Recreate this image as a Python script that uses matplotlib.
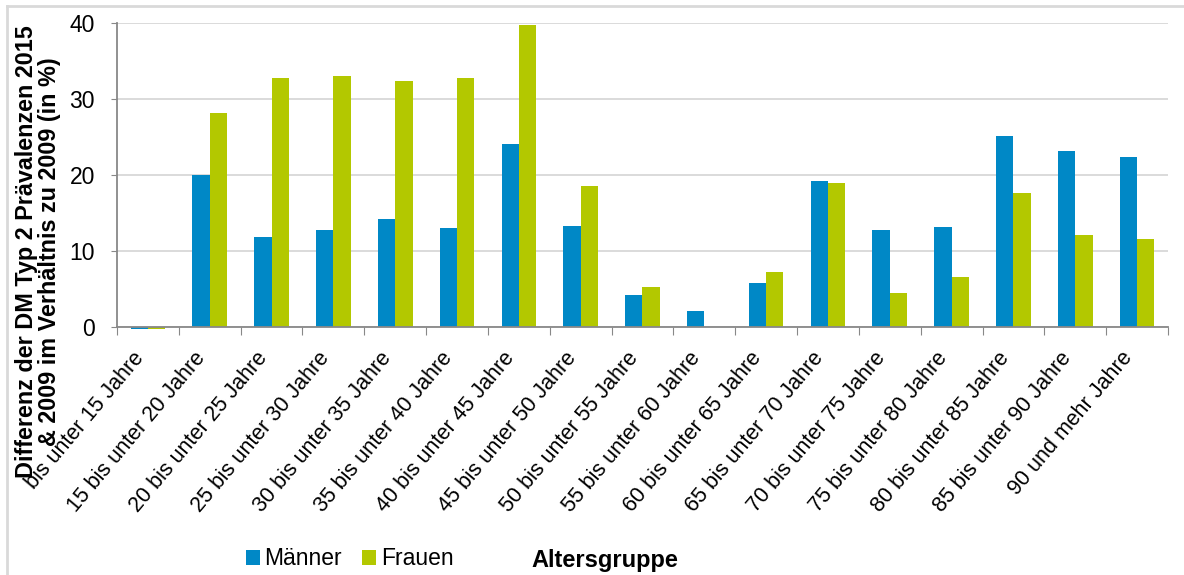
import matplotlib
matplotlib.use("Agg")
import matplotlib.pyplot as plt
import numpy as np
from matplotlib.lines import Line2D

plt.rcParams['font.family'] = ['Liberation Sans', 'DejaVu Sans']

# Altersgruppen und Differenzen (in %)
gruppen = ["bis unter 15 Jahre", "15 bis unter 20 Jahre", "20 bis unter 25 Jahre",
           "25 bis unter 30 Jahre", "30 bis unter 35 Jahre", "35 bis unter 40 Jahre",
           "40 bis unter 45 Jahre", "45 bis unter 50 Jahre", "50 bis unter 55 Jahre",
           "55 bis unter 60 Jahre", "60 bis unter 65 Jahre", "65 bis unter 70 Jahre",
           "70 bis unter 75 Jahre", "75 bis unter 80 Jahre", "80 bis unter 85 Jahre",
           "85 bis unter 90 Jahre", "90 und mehr Jahre"]
maenner = [-0.2, 20.0, 11.9, 12.7, 14.2, 13.0, 24.1, 13.3, 4.2, 2.1, 5.8,
           19.2, 12.7, 13.1, 25.1, 23.2, 22.4]
frauen = [-0.2, 28.2, 32.7, 33.0, 32.4, 32.7, 39.8, 18.5, 5.3, 0.0, 7.2,
          19.0, 4.5, 6.6, 17.6, 12.1, 11.6]

blau = '#0088C6'
gruen = '#B3C800'

fig = plt.figure(figsize=(11.84, 5.75), dpi=100)
ax = fig.add_axes([0.0988, 0.4313, 0.8877, 0.5287])

x = np.arange(len(gruppen))
w = 0.28
# clip_on=False, damit die kleinen negativen Werte unter der Achse sichtbar bleiben
ax.bar(x - w / 2, maenner, w, color=blau, label='Männer', zorder=3, clip_on=False)
ax.bar(x + w / 2, frauen, w, color=gruen, label='Frauen', zorder=3, clip_on=False)

ax.set_xlim(-0.5, len(gruppen) - 0.5)
ax.set_ylim(0, 40)
ax.set_yticks([0, 10, 20, 30, 40])
ax.tick_params(axis='y', labelsize=16.5, length=4, color='#888888', pad=12)
ax.yaxis.grid(True, color='#d4d4d4', linewidth=1.2, zorder=0)

# Striche an den Gruppengrenzen, Beschriftung in der Mitte
ax.set_xticks(np.arange(-0.5, len(gruppen)), minor=False)
ax.set_xticklabels([])
ax.set_xticks(x, minor=True)
ax.set_xticklabels(gruppen, minor=True, rotation=50, ha='right',
                   rotation_mode='default', fontsize=15.5)
ax.tick_params(axis='x', which='major', length=6, color='#888888')
ax.tick_params(axis='x', which='minor', length=0, pad=15)

for s in ['top', 'right']:
    ax.spines[s].set_visible(False)
for s in ['left', 'bottom']:
    ax.spines[s].set_color('#888888')
    ax.spines[s].set_linewidth(1.3)
    ax.spines[s].set_zorder(4)

fig.text(0.032, 0.562,
         'Differenz der DM Typ 2 Prävalenzen 2015\n& 2009 im Verhältnis zu 2009 (in %)',
         rotation=90, ha='center', va='center', fontsize=16.8, fontweight='bold',
         multialignment='center', linespacing=1.0)

leg = fig.legend(loc='center left', bbox_to_anchor=(0.198, 0.028), ncol=2,
                 frameon=False, fontsize=16.5, handlelength=0.6, handleheight=0.6,
                 handletextpad=0.2, columnspacing=0.9, borderpad=0)
fig.text(0.449, 0.026, 'Altersgruppe', ha='left', va='center',
         fontsize=17, fontweight='bold')

# grauer Rahmen oben und links
fig.add_artist(Line2D([7 / 1184, 1], [1 - 6 / 575, 1 - 6 / 575],
                      color='#d9d9d9', linewidth=2, transform=fig.transFigure))
fig.add_artist(Line2D([7 / 1184, 7 / 1184], [0, 1 - 6 / 575],
                      color='#d9d9d9', linewidth=2, transform=fig.transFigure))

fig.savefig('out.png', dpi=100)
